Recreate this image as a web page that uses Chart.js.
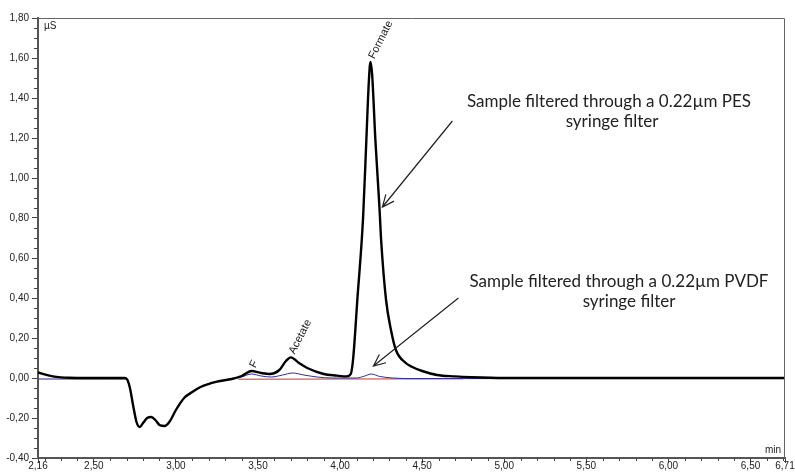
<!DOCTYPE html>
<html>
<head>
<meta charset="utf-8">
<script src="https://cdn.jsdelivr.net/npm/chart.js@4.4.1/dist/chart.umd.min.js"></script>
<style>
  html, body { margin: 0; padding: 0; background: #fff; }
  #wrap { width: 795px; height: 476px; position: relative; }
</style>
</head>
<body>
<div id="wrap"><canvas id="chrom"></canvas></div>
<script>
// ── Data (time in min, signal in µS) ──
const X_TICKS = [2.16, 2.5, 3.0, 3.5, 4.0, 4.5, 5.0, 5.5, 6.0, 6.5, 6.71];
const Y_TICKS = [-0.4, -0.2, 0, 0.2, 0.4, 0.6, 0.8, 1.0, 1.2, 1.4, 1.6, 1.8];

// PES filtered sample (black)
const pesTime = [2.16, 2.20, 2.25, 2.30, 2.35, 2.45, 2.60, 2.69, 2.705, 2.72, 2.74, 2.76, 2.78, 2.80, 2.825,
  2.85, 2.875, 2.90, 2.93, 2.96, 3.00, 3.05, 3.10, 3.15, 3.25, 3.34, 3.40, 3.46, 3.52, 3.57, 3.63,
  3.67, 3.70, 3.75, 3.80, 3.90, 3.98, 4.04, 4.065, 4.08, 4.105, 4.14, 4.16, 4.175, 4.185, 4.195,
  4.215, 4.24, 4.25, 4.28, 4.31, 4.34, 4.40, 4.44, 4.50, 4.59, 4.70, 4.80, 5.00, 6.71];
const pesSignal = [0.028, 0.018, 0.008, 0.003, 0.001, 0, 0, 0, -0.01, -0.05, -0.14, -0.22, -0.245, -0.225, -0.20,
  -0.195, -0.21, -0.235, -0.24, -0.22, -0.16, -0.10, -0.07, -0.045, -0.018, -0.005, 0.01, 0.035, 0.025, 0.02, 0.04,
  0.085, 0.103, 0.075, 0.05, 0.02, 0.012, 0.008, 0.02, 0.10, 0.39, 0.80, 1.19, 1.48, 1.58, 1.52,
  1.19, 0.85, 0.69, 0.39, 0.24, 0.14, 0.075, 0.055, 0.035, 0.015, 0.008, 0.004, 0, 0];

// PVDF filtered sample (blue)
const pvdfTime = [2.16, 2.60, 2.69, 2.705, 2.72, 2.74, 2.76, 2.78, 2.80, 2.825, 2.85, 2.875, 2.90, 2.93, 2.96,
  3.00, 3.05, 3.10, 3.15, 3.25, 3.34, 3.40, 3.46, 3.52, 3.58, 3.65, 3.71, 3.78, 3.86, 3.95, 4.10,
  4.15, 4.19, 4.24, 4.32, 4.45, 6.71];
const pvdfSignal = [-0.005, -0.005, -0.005, -0.012, -0.05, -0.14, -0.22, -0.245, -0.225, -0.20, -0.195, -0.21, -0.235, -0.24, -0.22,
  -0.16, -0.10, -0.07, -0.045, -0.018, -0.006, 0.005, 0.02, 0.01, 0.005, 0.015, 0.025, 0.015, 0.005, 0, 0,
  0.01, 0.02, 0.008, 0, -0.003, -0.003];

// red trace
const redTime = [3.38, 4.75];
const redSignal = [-0.006, -0.004];

const X_MINOR = [2.2, 2.3, 2.4, 2.6, 2.7, 2.8, 2.9, 3.1, 3.2, 3.3, 3.4, 3.6, 3.7, 3.8, 3.9, 4.1, 4.2, 4.3, 4.4,
  4.6, 4.7, 4.8, 4.9, 5.1, 5.2, 5.3, 5.4, 5.6, 5.7, 5.8, 5.9, 6.1, 6.2, 6.3, 6.4, 6.6, 6.7];

const PEAKS = [
  { label: 'F', t: 3.46, v: 0.035 },
  { label: 'Acetate', t: 3.70, v: 0.103 },
  { label: 'Formate', t: 4.185, v: 1.58 },
];

const NOTES = [
  { lines: ['Sample filtered through a 0.22\u00b5m PES', 'syringe filter'], cx: [609, 612], y: [107, 127],
    from: [4.684, 1.285], to: [4.258, 0.855] },
  { lines: ['Sample filtered through a 0.22\u00b5m PVDF', 'syringe filter'], cx: [619, 629], y: [287, 307],
    from: [4.721, 0.40], to: [4.203, 0.06] },
];

const AXIS_FONT = { family: 'Liberation Sans, Arial, sans-serif', size: 10 };
const fmt = (v) => v.toFixed(2).replace('.', ',');
const pts = (xs, ys) => xs.map((x, i) => ({ x, y: ys[i] }));

// ── Extras: frame, minor ticks, peak names, notes with arrows ──
const extras = {
  id: 'extras',
  afterDraw(chart) {
    const { ctx, chartArea: a, scales: { x, y } } = chart;
    ctx.save();

    // frame
    ctx.strokeStyle = '#666';
    ctx.lineWidth = 1;
    ctx.beginPath();
    ctx.moveTo(a.left, a.top + 0.5);
    ctx.lineTo(a.right - 0.5, a.top + 0.5);
    ctx.lineTo(a.right - 0.5, a.bottom);
    ctx.stroke();

    // minor ticks
    ctx.strokeStyle = '#444';
    ctx.beginPath();
    for (let i = 0; i <= 44; i++) {
      if (i % 4 === 0) continue;
      const py = Math.round(y.getPixelForValue(-0.4 + i * 0.05)) + 0.5;
      ctx.moveTo(a.left - 4, py);
      ctx.lineTo(a.left, py);
    }
    X_MINOR.forEach((t) => {
      const px = Math.round(x.getPixelForValue(t)) + 0.5;
      ctx.moveTo(px, a.bottom);
      ctx.lineTo(px, a.bottom + 3);
    });
    ctx.stroke();

    // unit labels
    ctx.fillStyle = '#222';
    ctx.font = '10px "Liberation Sans", Arial, sans-serif';
    ctx.textBaseline = 'middle';
    ctx.textAlign = 'left';
    ctx.fillText('\u00b5S', a.left + 6, a.top + 8);
    ctx.textAlign = 'right';
    ctx.fillText('min', a.right - 4, a.bottom - 8);

    // peak names, rotated
    ctx.textAlign = 'left';
    ctx.textBaseline = 'middle';
    ctx.font = '11px "Liberation Sans", Arial, sans-serif';
    PEAKS.forEach((p) => {
      const px = x.getPixelForValue(p.t);
      const py = y.getPixelForValue(p.v);
      ctx.save();
      ctx.translate(px + 1, py - 4);
      ctx.rotate(-63 * Math.PI / 180);
      ctx.fillText(p.label, 0, 0);
      ctx.restore();
    });

    // notes
    ctx.font = '17px Lato, "Open Sans", sans-serif';
    ctx.textAlign = 'center';
    ctx.textBaseline = 'alphabetic';
    ctx.fillStyle = '#222';
    NOTES.forEach((n) => {
      n.lines.forEach((s, i) => ctx.fillText(s, n.cx[i], n.y[i]));
      const x0 = x.getPixelForValue(n.from[0]), y0 = y.getPixelForValue(n.from[1]);
      const x1 = x.getPixelForValue(n.to[0]), y1 = y.getPixelForValue(n.to[1]);
      const ang = Math.atan2(y1 - y0, x1 - x0);
      const h = 13, spread = 0.42;
      ctx.strokeStyle = '#222';
      ctx.lineWidth = 1.2;
      ctx.beginPath();
      ctx.moveTo(x0, y0);
      ctx.lineTo(x1, y1);
      ctx.moveTo(x1 - h * Math.cos(ang - spread), y1 - h * Math.sin(ang - spread));
      ctx.lineTo(x1, y1);
      ctx.lineTo(x1 - h * Math.cos(ang + spread), y1 - h * Math.sin(ang + spread));
      ctx.stroke();
    });

    ctx.restore();
  },
};

const line = (data, color, width) => ({
  data,
  borderColor: color,
  borderWidth: width,
  pointRadius: 0,
  fill: false,
  cubicInterpolationMode: 'monotone',
});

new Chart(document.getElementById('chrom'), {
  type: 'line',
  data: {
    datasets: [
      line(pts(pesTime, pesSignal), '#000000', 2.4),
      line(pts(pvdfTime, pvdfSignal), '#2b2b96', 1),
      line(pts(redTime, redSignal), '#c0392b', 1),
    ],
  },
  plugins: [extras],
  options: {
    responsive: true,
    maintainAspectRatio: false,
    animation: false,
    layout: { padding: { top: 18, right: 10, left: 0, bottom: 0 } },
    plugins: { legend: { display: false }, tooltip: { enabled: false } },
    scales: {
      x: {
        type: 'linear',
        min: 2.16,
        max: 6.71,
        afterBuildTicks: (s) => { s.ticks = X_TICKS.map((v) => ({ value: v })); },
        afterFit: (s) => { s.height = 18; },
        ticks: { autoSkip: false, maxRotation: 0, padding: -3, color: '#222', font: AXIS_FONT, callback: (v) => fmt(v) },
        grid: { drawOnChartArea: false, tickLength: 5, color: '#444' },
        border: { color: '#555', width: 2 },
      },
      y: {
        min: -0.4,
        max: 1.8,
        afterBuildTicks: (s) => { s.ticks = Y_TICKS.map((v) => ({ value: v })); },
        afterFit: (s) => { s.width = 38; },
        ticks: { padding: 3, color: '#222', font: AXIS_FONT, callback: (v) => fmt(v) },
        grid: { drawOnChartArea: false, tickLength: 6, color: '#444' },
        border: { color: '#555', width: 2 },
      },
    },
  },
});
</script>
</body>
</html>
